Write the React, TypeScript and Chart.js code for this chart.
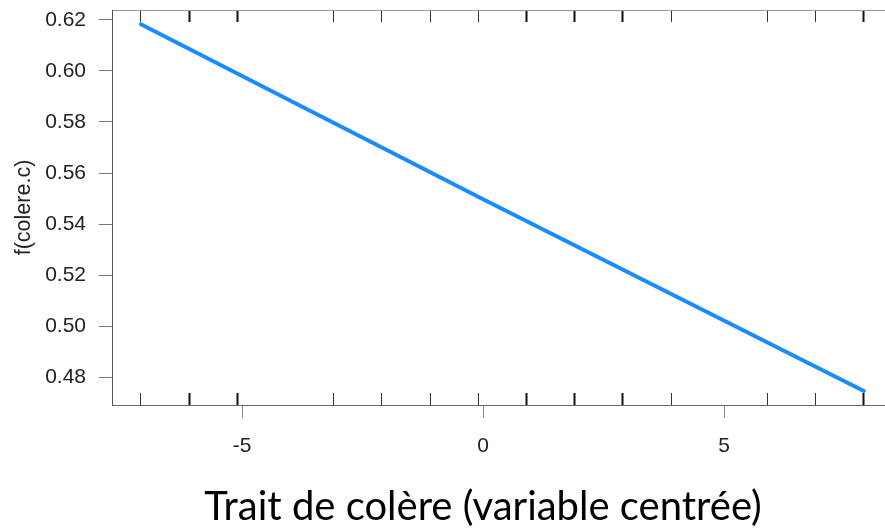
import React, { useEffect, useRef } from "react";
import { Chart, registerables } from "chart.js";

Chart.register(...registerables);

// ---- data ----
const lineX = [-7.1, 0, 7.9];
const lineY = [0.6182, 0.5498, 0.4748];
const rugValues = [-7.1, -6.1, -5.1, -3.1, -2.1, -1.1, -0.1, 0.9, 1.9, 2.9, 3.9, 5.9, 6.9, 7.9];
const rugCounts = [1, 2, 2, 1, 1, 1, 1, 2, 2, 2, 1, 1, 1, 2];
const xTickValues = [-5, 0, 5];
const yTickValues = [0.48, 0.5, 0.52, 0.54, 0.56, 0.58, 0.6, 0.62];
const xTitle = "Trait de colère (variable centrée)";
const yTitle = "f(colere.c)";
const X_MIN = -7.7;
const X_MAX = 8.34;
const Y_MIN = 0.4693;
const Y_MAX = 0.6238;
const X_TITLE_CENTER = 0; // title centred under this x value

const xTitlePlugin = {
  id: "xTitlePlugin",
  afterDraw(chart: any) {
    const ctx = chart.ctx;
    const sx = chart.scales.x;
    ctx.save();
    ctx.font = "40px Lato, 'Open Sans', sans-serif";
    ctx.fillStyle = "#000";
    ctx.textAlign = "center";
    ctx.textBaseline = "alphabetic";
    ctx.fillText(xTitle, sx.getPixelForValue(X_TITLE_CENTER), chart.height - 8);
    ctx.restore();
  },
};

export default function App() {
  const ref = useRef<HTMLCanvasElement | null>(null);

  useEffect(() => {
    if (!ref.current) return;
    const tickFont = { family: "'Liberation Sans', Arial, sans-serif", size: 21 };
    const rugScale = (position: "top" | "bottom", weight: number, h: number, border: boolean) => ({
      type: "linear" as const,
      axis: "x" as const,
      position,
      weight,
      min: X_MIN,
      max: X_MAX,
      afterBuildTicks: (s: any) => {
        s.ticks = rugValues.map((v) => ({ value: v }));
      },
      grid: {
        display: true,
        drawOnChartArea: false,
        drawTicks: true,
        tickLength: -12,
        tickColor: (ctx: any) => (rugCounts[ctx.index] > 1 ? "#111" : "#333"),
        tickWidth: (ctx: any) => (rugCounts[ctx.index] > 1 ? 2 : 1),
      },
      border: { display: border, color: "#999", width: 1 },
      ticks: { display: false },
      afterFit: (s: any) => {
        s.height = h;
        s.paddingLeft = 0;
        s.paddingRight = 0;
      },
    });

    const chart = new Chart(ref.current, {
      type: "scatter",
      data: {
        datasets: [
          {
            data: lineX.map((x, i) => ({ x, y: lineY[i] })),
            showLine: true,
            borderColor: "#1a8cff",
            borderWidth: 4,
            borderCapStyle: "round",
            pointRadius: 0,
            xAxisID: "x",
            yAxisID: "y",
          },
        ],
      },
      options: {
        animation: false,
        responsive: false,
        devicePixelRatio: 1,
        layout: { padding: 0 },
        plugins: { legend: { display: false }, tooltip: { enabled: false }, title: { display: false } },
        scales: {
          x: {
            type: "linear",
            position: "bottom",
            weight: 0,
            min: X_MIN,
            max: X_MAX,
            afterBuildTicks: (s: any) => {
              s.ticks = xTickValues.map((v) => ({ value: v }));
            },
            grid: {
              display: true,
              drawOnChartArea: false,
              drawTicks: true,
              tickLength: 13,
              tickColor: "#888",
              tickWidth: 1,
            },
            border: { display: true, color: "#666", width: 1 },
            ticks: {
              font: tickFont,
              color: "#222",
              padding: 16,
              maxRotation: 0,
              autoSkip: false,
              callback: (v: any) => String(v),
            },
            title: { display: false },
            afterFit: (s: any) => {
              s.height = 123;
              s.paddingLeft = 0;
              s.paddingRight = 0;
            },
          },
          rugB: rugScale("bottom", -10, 0, false),
          rugT: rugScale("top", 0, 10, true),
          y: {
            type: "linear",
            position: "left",
            min: Y_MIN,
            max: Y_MAX,
            afterBuildTicks: (s: any) => {
              s.ticks = yTickValues.map((v) => ({ value: v }));
            },
            grid: {
              display: true,
              drawOnChartArea: false,
              drawTicks: true,
              tickLength: 13,
              tickColor: "#777",
              tickWidth: 1,
            },
            border: { display: true, color: "#555", width: 1 },
            ticks: {
              font: tickFont,
              color: "#222",
              padding: 13,
              autoSkip: false,
              callback: (v: any) => Number(v).toFixed(2),
            },
            title: {
              display: true,
              text: yTitle,
              font: { family: "'Liberation Sans', Arial, sans-serif", size: 21.5 },
              color: "#222",
              padding: { top: 11, bottom: 0 },
            },
            afterFit: (s: any) => {
              s.width = 112;
              s.paddingTop = 0;
              s.paddingBottom = 0;
            },
          },
        },
      } as any,
      plugins: [xTitlePlugin],
    });
    return () => chart.destroy();
  }, []);

  return (
    <div style={{ position: "absolute", left: 0, top: 0, width: 885, height: 528, background: "#fff" }}>
      <canvas ref={ref} width={885} height={528} style={{ display: "block" }} />
    </div>
  );
}
